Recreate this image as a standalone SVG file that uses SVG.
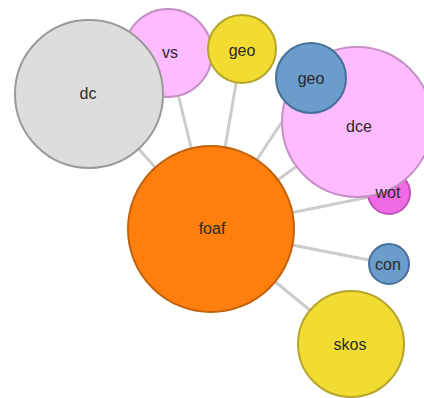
<svg xmlns="http://www.w3.org/2000/svg" width="424" height="398" viewBox="0 0 424 398">
  <style>
    .link { stroke: #cccccc; stroke-width: 3; }
    circle { stroke-width: 2; }
    .lbl { font-family: "Liberation Sans", Arial, sans-serif; font-size: 16px; fill: #2a2a2a; text-anchor: middle; }
    .gray { fill: #dddddd; stroke: #9a9a9a; }
    .pink { fill: #ffbbff; stroke: #c58fc5; }
    .magenta { fill: #f06ae6; stroke: #c050b8; }
    .yellow { fill: #f2dc32; stroke: #b5a52a; }
    .blue { fill: #6a9dcc; stroke: #46709a; }
    .orange { fill: #ff7f0e; stroke: #c3620c; }
  </style>
  <rect width="424" height="398" fill="#ffffff"/>
  <g id="links">
    <line class="link" x1="211" y1="229" x2="89" y2="94"/>
    <line class="link" x1="211" y1="229" x2="168" y2="53"/>
    <line class="link" x1="211" y1="229" x2="242" y2="49"/>
    <line class="link" x1="211" y1="229" x2="311" y2="78"/>
    <line class="link" x1="211" y1="229" x2="357" y2="122"/>
    <line class="link" x1="211" y1="229" x2="389" y2="193"/>
    <line class="link" x1="211" y1="229" x2="389" y2="264"/>
    <line class="link" x1="211" y1="229" x2="351" y2="344"/>
  </g>
  <g id="node-vs"><circle class="pink" cx="168" cy="53" r="44"/></g>
  <g id="node-dc"><circle class="gray" cx="89" cy="94" r="74"/></g>
  <g id="node-geo-1"><circle class="yellow" cx="242" cy="49" r="34"/></g>
  <g id="node-wot"><circle class="magenta" cx="389" cy="193" r="21"/></g>
  <g id="node-dce"><circle class="pink" cx="357" cy="122" r="75"/></g>
  <g id="node-geo-2"><circle class="blue" cx="311" cy="78" r="35"/></g>
  <g id="node-con"><circle class="blue" cx="389" cy="264" r="20"/></g>
  <g id="node-skos"><circle class="yellow" cx="351" cy="344" r="53"/></g>
  <g id="node-foaf"><circle class="orange" cx="211" cy="229" r="83"/></g>
  <g id="labels">
    <text class="lbl" x="170" y="58">vs</text>
    <text class="lbl" x="88" y="99">dc</text>
    <text class="lbl" x="242" y="56">geo</text>
    <text class="lbl" x="311" y="84">geo</text>
    <text class="lbl" x="359" y="132">dce</text>
    <text class="lbl" x="388" y="198">wot</text>
    <text class="lbl" x="388" y="270">con</text>
    <text class="lbl" x="350" y="350">skos</text>
    <text class="lbl" x="212" y="234">foaf</text>
  </g>
</svg>
